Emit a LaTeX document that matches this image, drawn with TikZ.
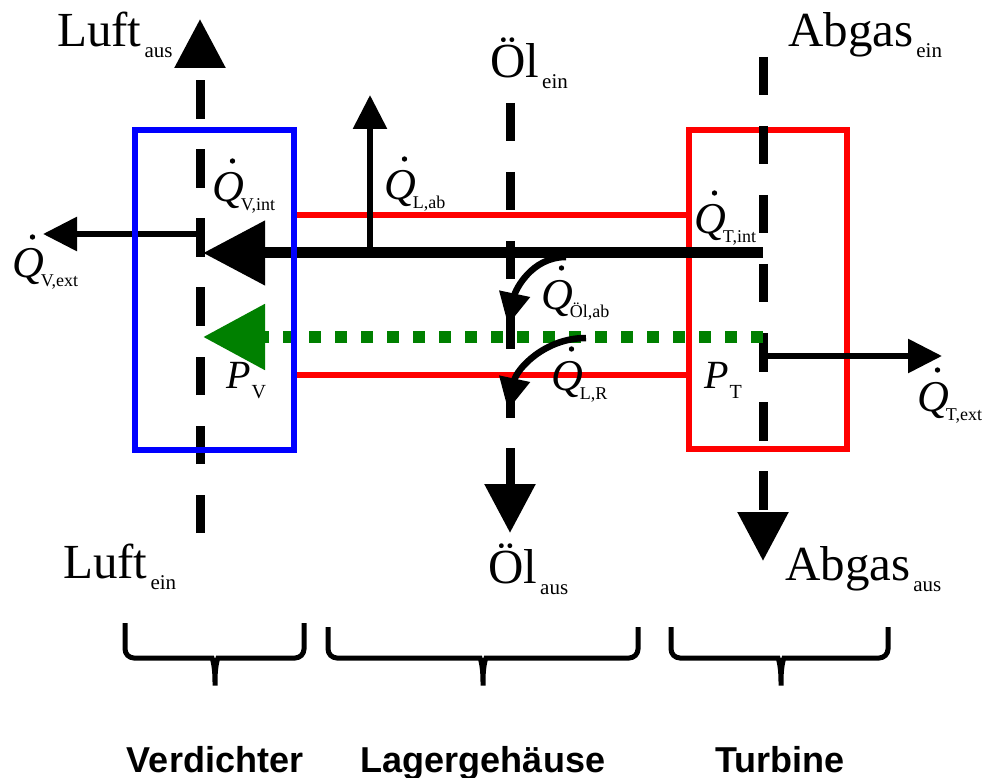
\documentclass[tikz,border=0pt]{standalone}
\usepackage{fontspec}
\setmainfont{Liberation Serif}
\newfontfamily\labelfont{Liberation Sans}
\usetikzlibrary{arrows.meta}
\definecolor{gruen}{RGB}{0,128,0}

% Q mit tiefgestelltem Index (Punkt wird unten gezeichnet)
\newcommand{\Qp}[1]{{\fontsize{44}{44}\selectfont\itshape Q}\kern-3pt\raisebox{-9pt}{\fontsize{18}{18}\selectfont #1}}
\newcommand{\Pl}[1]{{\fontsize{40}{40}\selectfont\itshape P}\kern1pt\raisebox{-10pt}{\fontsize{20}{20}\selectfont #1}}
\newcommand{\Stoff}[2]{{\fontsize{49}{49}\selectfont #1}\kern3pt\raisebox{-11pt}{\fontsize{21}{21}\selectfont #2}}

\begin{document}
\begin{tikzpicture}[x=1pt, y=-1pt,
    strom/.style={line width=9pt, dash pattern=on 38.5pt off 30.5pt, -{Triangle[length=49pt,width=49pt]}},
    waerme/.style={line width=6pt, -{Triangle[length=34pt,width=33pt]}},
    bogen/.style={line width=6.5pt, -{Triangle[length=32pt,width=30pt]}},
    txt/.style={anchor=base west, inner sep=0pt},
    klammer/.style={line width=5pt, rounded corners=9pt}]
      \useasboundingbox (0,0) rectangle (986,778);
      % \draw[help lines, gray!50, very thin] (0,0) grid[step=50] (986,778);

      % Turbine und Lagergehaeuse
      \draw[red, line width=6pt] (689,130.5) rectangle (847,449);
      \draw[red, line width=5.5pt] (294,215) -- (689,215);
      \draw[red, line width=5.5pt] (294,375) -- (689,375);

      % Stoffstroeme
      \coordinate (luft0) at (200,533);
      \coordinate (luft1) at (200,19);
      \coordinate (oel0) at (510,103);
      \coordinate (oel1) at (510,533);
      \coordinate (abgas0) at (763,57);
      \coordinate (abgas1) at (763,561);
      \draw[strom] (luft0) -- (luft1);
      \draw[strom] (oel0) -- (oel1);
      \draw[strom] (abgas0) -- (abgas1);

      % Waermestroeme und Leistung
      \coordinate (tint) at (763,253);
      \coordinate (vint) at (203,253);
      \coordinate (tp) at (763,337);
      \coordinate (vp) at (203,337);
      \draw[line width=11pt, -{Triangle[length=62pt,width=62pt]}] (tint) -- (vint);
      \draw[gruen, line width=12pt, dash pattern=on 12pt off 14pt, -{Triangle[length=62pt,width=63pt]}] (tp) -- (vp);

      \coordinate (vext0) at (197,234);
      \coordinate (vext1) at (43,234);
      \coordinate (lab0) at (370,253);
      \coordinate (lab1) at (370,95);
      \coordinate (text0) at (763,356);
      \coordinate (text1) at (942,356);
      \draw[waerme] (vext0) -- (vext1);
      \draw[waerme] (lab0) -- (lab1);
      \draw[waerme] (text0) -- (text1);

      \coordinate (oelab0) at (566,257);
      \coordinate (oelab1) at (508,325);
      \coordinate (lr0) at (586,338);
      \coordinate (lr1) at (508,410);
      \draw[bogen] (oelab0) to[out=180, in=78] (oelab1);
      \draw[bogen] (lr0) to[out=180, in=78] (lr1);

      % Verdichter
      \draw[blue, line width=6pt] (135,130.5) rectangle (294,450);

      % Beschriftungen
      \node[txt] (qvint) at (212,202) {\Qp{V,int}};
      \node[txt] (qlab) at (384,200) {\Qp{L,ab}};
      \node[txt] (qvext) at (12,278) {\Qp{V,ext}};
      \node[txt] (qtint) at (694,234) {\Qp{T,int}};
      \node[txt] (qoelab) at (541,309) {\Qp{Öl,ab}};
      \node[txt] (qlr) at (551,390) {\Qp{L,R}};
      \node[txt] (qtext) at (917,411) {\Qp{T,ext}};
      \foreach \n in {qvint, qlab, qvext, qtint, qoelab, qlr, qtext}
        \fill ([shift={(20.5pt,41pt)}]\n.base west) circle (2.7pt);
      \node[txt] (pv) at (226,388) {\Pl{V}};
      \node[txt] (pt) at (704,388) {\Pl{T}};

      \node[txt] (luftaus) at (57,47) {\Stoff{Luft}{aus}};
      \node[txt] (oelein) at (490,78) {\Stoff{Öl}{ein}};
      \node[txt] (abgasein) at (788,47) {\Stoff{Abgas}{ein}};
      \node[txt] (luftein) at (63,578) {\Stoff{Luft}{ein}};
      \node[txt] (oelaus) at (488,583) {\Stoff{Öl}{aus}};
      \node[txt] (abgasaus) at (785,580) {\Stoff{Abgas}{aus}};

      % Klammern
      \foreach \l/\m/\r/\t in {125/215/304/623, 328/483/638/627, 671/781/888/627}
        \draw[klammer] (\l,\t) -- (\l,658) -- (\m-12,658)
          .. controls (\m-3,658) and (\m,664) .. (\m,691)
          .. controls (\m,664) and (\m+3,658) .. (\m+12,658) -- (\r,658) -- (\r,\t);

      \node[anchor=base, inner sep=0pt] (verdichter) at (215,772) {\labelfont\bfseries\fontsize{36}{36}\selectfont Verdichter};
      \node[anchor=base, inner sep=0pt] (lager) at (483,772) {\labelfont\bfseries\fontsize{36}{36}\selectfont Lagergehäuse};
      \node[anchor=base, inner sep=0pt] (turbine) at (780,772) {\labelfont\bfseries\fontsize{36}{36}\selectfont Turbine};
    \end{tikzpicture}
\end{document}
